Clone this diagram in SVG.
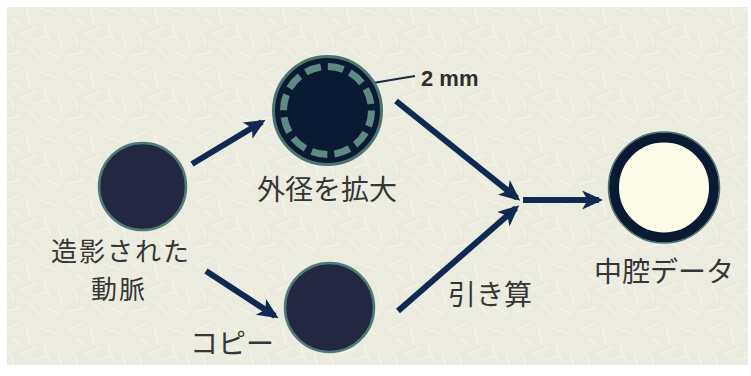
<svg xmlns="http://www.w3.org/2000/svg" width="751" height="376" viewBox="0 0 751 376">
<defs>
<style>
.lbl{font-family:"Noto Sans CJK JP","Noto Sans",sans-serif;font-size:28px;fill:#363636;text-anchor:middle}
.arr{stroke:#0e2a52;stroke-width:6;fill:none;marker-end:url(#ah)}
.solid{fill:#23273f;stroke:#4f7b78;stroke-width:2.5}
</style>
<marker id="ah" viewBox="0 0 20 20" refX="16" refY="10" markerWidth="21" markerHeight="21" markerUnits="userSpaceOnUse" orient="auto">
<path d="M0,1 L20,10 L0,19 L5,10 Z" fill="#0e2a52"/>
</marker>
<pattern id="tex" width="64" height="64" patternUnits="userSpaceOnUse">
<rect width="64" height="64" fill="#ebebdf"/>
<g stroke="#f4f4ea" stroke-width="1.6" stroke-linecap="round">
<path d="M4,10 L18,4"/><path d="M26,6 L30,22"/><path d="M40,8 L56,14"/><path d="M8,30 L14,44"/>
<path d="M20,34 L36,28"/><path d="M44,26 L50,42"/><path d="M58,30 L62,48"/><path d="M4,56 L20,52"/>
<path d="M28,46 L40,58"/><path d="M48,52 L60,58"/><path d="M12,18 L22,26"/><path d="M34,40 L46,36"/>
</g>
</pattern>
</defs>
<rect x="0" y="0" width="751" height="376" fill="#ffffff"/>
<rect x="7" y="7" width="741" height="358" fill="url(#tex)"/>

<g id="connectors">
<path class="arr" d="M192,164 L262,122"/>
<path class="arr" d="M396,101 L517,198"/>
<path class="arr" d="M206,271 L275,316"/>
<path class="arr" d="M398,311 L516,208"/>
<path class="arr" d="M523,200 L599,200"/>
<path d="M373,83 L415,76" stroke="#1a2a40" stroke-width="2" fill="none"/>
</g>

<g id="artery">
<circle class="solid" cx="142.5" cy="186.5" r="43.5"/>
<text class="lbl" style="font-size:26px;letter-spacing:2px"><tspan x="121" y="261">造影された</tspan><tspan x="119" y="299">動脈</tspan></text>
</g>

<g id="dilated">
<circle cx="327.5" cy="110.5" r="54" fill="#0b1a33" stroke="#4a7470" stroke-width="3"/>
<circle cx="327.5" cy="110.5" r="44" fill="none" stroke="#5e8a84" stroke-width="7" stroke-dasharray="16 7.04"/>
<text class="lbl" x="327" y="200">外径を拡大</text>
</g>

<g id="dim">
<text x="421" y="86" font-family="Liberation Sans, Arial, sans-serif" font-size="22" font-weight="bold" fill="#2e2e2e">2 mm</text>
</g>

<g id="copy">
<circle class="solid" cx="329.5" cy="307.5" r="44.5"/>
<text class="lbl" x="232" y="354">コピー</text>
</g>

<g id="subtract">
<text class="lbl" x="490" y="305">引き算</text>
</g>

<g id="lumen">
<circle cx="664" cy="187.5" r="50" fill="#fdfce9" stroke="#0b1a33" stroke-width="10"/>
<circle cx="664" cy="187.5" r="55.5" fill="none" stroke="#4a7470" stroke-width="1.5"/>
<text class="lbl" x="664" y="282">中腔データ</text>
</g>
</svg>
